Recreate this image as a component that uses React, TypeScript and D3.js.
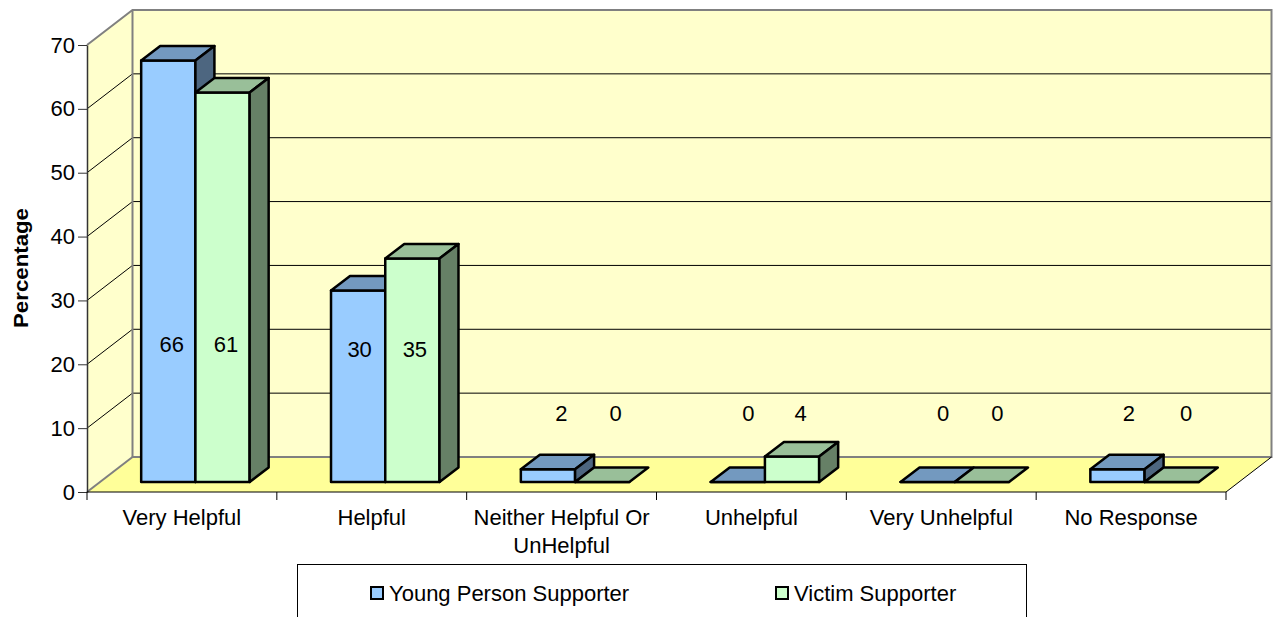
import { useEffect, useRef } from 'react';
import * as d3 from 'd3';

const categories = ['Very Helpful', 'Helpful', 'Neither Helpful Or|UnHelpful', 'Unhelpful', 'Very Unhelpful', 'No Response'];
const seriesNames = ['Young Person Supporter', 'Victim Supporter'];
const youngPerson = [66, 30, 2, 0, 0, 2];
const victim = [61, 35, 0, 4, 0, 0];
const yTicks = [0, 10, 20, 30, 40, 50, 60, 70];

// excel moved these labels by hand, so they are nudged from the bar centre
const labelNudgeX = [[4, 4], [2, 3], [14, 14], [11, 9], [16, 16], [12, 15]];
const labelValue = [[22.9, 22.9], [22.1, 22.1], [12, 12], [12, 12], [12, 12], [12, 12]];

const width = 1275;
const height = 617;
const left = 87;
const right = 1226;
const bottom = 492;
const top = 45;
const wallDx = 45.5;
const wallDy = -35;
const barInsetX = 13.5;
const barInsetY = -10;
const barDx = 19;
const barDy = -14.5;

const colors = [
  { front: '#99CCFF', top: '#7399BF', side: '#4D6680' },
  { front: '#CCFFCC', top: '#99BF99', side: '#668066' },
];

const App = () => {
  const ref = useRef<SVGSVGElement | null>(null);

  useEffect(() => {
    if (!ref.current) return;
    const svg = d3.select(ref.current);
    svg.selectAll('*').remove();
    svg.attr('width', width).attr('height', height);

    const x0 = d3.scaleBand<string>().domain(categories).range([left, right]);
    const x1 = d3
      .scaleBand<string>()
      .domain(seriesNames)
      .range([0, x0.bandwidth()])
      .paddingInner(0)
      .paddingOuter(0.75);
    const y = d3.scaleLinear().domain([0, 70]).range([bottom, top]);
    const font = 'Liberation Sans, Arial, sans-serif';
    const poly = (pts: number[][]) => pts.map((p) => p.join(',')).join(' ');

    // back wall, side wall, floor
    svg
      .append('polygon')
      .attr('points', poly([[left, bottom], [left + wallDx, bottom + wallDy], [left + wallDx, top + wallDy], [left, top]]))
      .attr('fill', '#FFFFCC');
    svg
      .append('polygon')
      .attr('points', poly([[left + wallDx, bottom + wallDy], [right + wallDx, bottom + wallDy], [right + wallDx, top + wallDy], [left + wallDx, top + wallDy]]))
      .attr('fill', '#FFFFCC');
    svg
      .append('polygon')
      .attr('points', poly([[left, bottom], [left + wallDx, bottom + wallDy], [right + wallDx, bottom + wallDy], [right, bottom]]))
      .attr('fill', '#FFFF99');

    // gridlines
    yTicks.slice(1, -1).forEach((t) => {
      svg
        .append('polyline')
        .attr('points', poly([[left, y(t)], [left + wallDx, y(t) + wallDy], [right + wallDx, y(t) + wallDy]]))
        .attr('fill', 'none')
        .attr('stroke', '#000')
        .attr('stroke-width', 1);
    });

    // wall edges
    svg
      .append('polyline')
      .attr('points', poly([[left, top], [left + wallDx, top + wallDy], [right + wallDx, top + wallDy], [right + wallDx, bottom + wallDy], [left + wallDx, bottom + wallDy], [left + wallDx, top + wallDy]]))
      .attr('fill', 'none')
      .attr('stroke', '#808080')
      .attr('stroke-width', 2);
    svg
      .append('line')
      .attr('x1', left)
      .attr('y1', bottom)
      .attr('x2', left + wallDx)
      .attr('y2', bottom + wallDy)
      .attr('stroke', '#808080')
      .attr('stroke-width', 2);
    svg
      .append('line')
      .attr('x1', right)
      .attr('y1', bottom)
      .attr('x2', right + wallDx)
      .attr('y2', bottom + wallDy)
      .attr('stroke', '#000')
      .attr('stroke-width', 1);

    // bars
    const base = bottom + barInsetY;
    const scale = (bottom - top) / 70;
    categories.forEach((c, i) => {
      [youngPerson[i], victim[i]].forEach((v, s) => {
        const xa = (x0(c) as number) + barInsetX + (x1(seriesNames[s]) as number);
        const xb = xa + x1.bandwidth();
        const yt = base - v * scale;
        const g = svg.append('g').attr('stroke', '#000').attr('stroke-width', 2.5).attr('stroke-linejoin', 'round');
        g.append('polygon')
          .attr('points', poly([[xa, base], [xb, base], [xb, yt], [xa, yt]]))
          .attr('fill', colors[s].front);
        g.append('polygon')
          .attr('points', poly([[xa, yt], [xb, yt], [xb + barDx, yt + barDy], [xa + barDx, yt + barDy]]))
          .attr('fill', colors[s].top);
        if (v > 0) {
          g.append('polygon')
            .attr('points', poly([[xb, base], [xb + barDx, base + barDy], [xb + barDx, yt + barDy], [xb, yt]]))
            .attr('fill', colors[s].side);
        }
      });
    });

    // data labels
    categories.forEach((c, i) => {
      [youngPerson[i], victim[i]].forEach((v, s) => {
        svg
          .append('text')
          .attr('x', (x0(c) as number) + 13 + (x1(seriesNames[s]) as number) + x1.bandwidth() / 2 + labelNudgeX[i][s])
          .attr('y', y(labelValue[i][s]))
          .attr('text-anchor', 'middle')
          .attr('dominant-baseline', 'middle')
          .attr('font-family', font)
          .attr('font-size', 22)
          .attr('fill', '#000')
          .text(v);
      });
    });

    // axes
    const yAxis = svg
      .append('g')
      .attr('transform', `translate(${left},0)`)
      .call(d3.axisLeft(y).tickValues(yTicks).tickSize(9).tickPadding(3).tickSizeOuter(0));
    yAxis.select('.domain').attr('stroke', '#333').attr('stroke-width', 1.5);
    yAxis.selectAll('line').attr('stroke', '#333');
    yAxis.selectAll('text').attr('font-family', font).attr('font-size', 22).attr('fill', '#000');

    const xAxis = svg
      .append('g')
      .attr('transform', `translate(0,${bottom})`);
    xAxis
      .append('line')
      .attr('x1', left)
      .attr('x2', right)
      .attr('stroke', '#000');
    d3.range(categories.length + 1).forEach((k) => {
      const xt = left + k * x0.step();
      xAxis.append('line').attr('x1', xt).attr('x2', xt).attr('y1', 0).attr('y2', 8).attr('stroke', '#000');
    });
    categories.forEach((c) => {
      c.split('|').forEach((line, j) => {
        xAxis
          .append('text')
          .attr('x', (x0(c) as number) + x0.bandwidth() / 2)
          .attr('y', 33 + j * 28)
          .attr('text-anchor', 'middle')
          .attr('font-family', font)
          .attr('font-size', 22)
          .attr('fill', '#000')
          .text(line);
      });
    });

    svg
      .append('text')
      .attr('transform', 'translate(28,268) rotate(-90)')
      .attr('text-anchor', 'middle')
      .attr('font-family', font)
      .attr('font-size', 20)
      .attr('font-weight', 'bold')
      .attr('textLength', 120)
      .attr('lengthAdjust', 'spacingAndGlyphs')
      .text('Percentage');

    // legend
    svg
      .append('rect')
      .attr('x', 297.5)
      .attr('y', 564.5)
      .attr('width', 729)
      .attr('height', 70)
      .attr('fill', '#fff')
      .attr('stroke', '#000');
    const legendX = [370, 775];
    seriesNames.forEach((name, s) => {
      svg
        .append('rect')
        .attr('x', legendX[s] + 1)
        .attr('y', 587)
        .attr('width', 12)
        .attr('height', 12)
        .attr('fill', colors[s].front)
        .attr('stroke', '#000')
        .attr('stroke-width', 2);
      svg
        .append('text')
        .attr('x', legendX[s] + 19)
        .attr('y', 601)
        .attr('font-family', font)
        .attr('font-size', 22)
        .attr('fill', '#000')
        .text(name);
    });
  }, []);

  return <svg ref={ref} style={{ position: 'absolute', left: 0, top: 0 }} />;
};

export default App;
